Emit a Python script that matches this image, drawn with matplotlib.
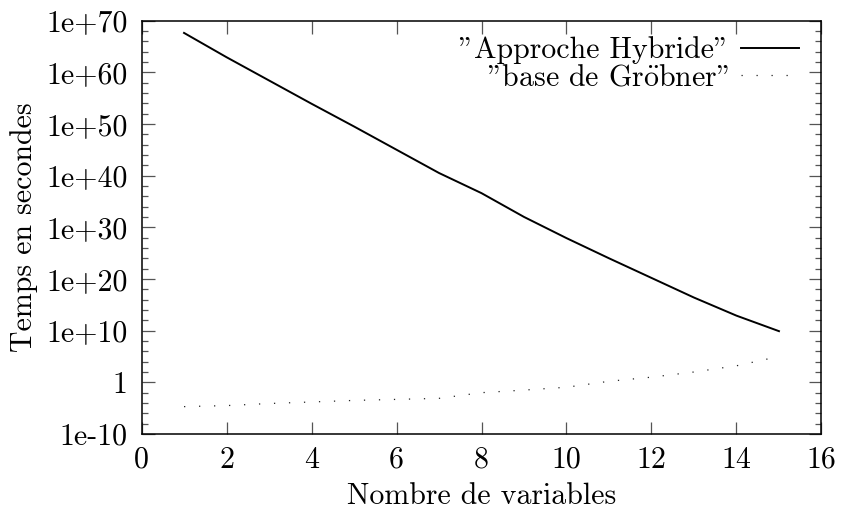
import numpy as np
import matplotlib
matplotlib.use("Agg")
import matplotlib.pyplot as plt
from matplotlib.ticker import FixedLocator, NullFormatter

plt.rcParams['font.family'] = ['cmr10', 'DejaVu Serif']
plt.rcParams['axes.unicode_minus'] = False
plt.rcParams['mathtext.fontset'] = 'cm'

# data (log10 of the time in seconds)
variables = [1, 2, 3, 4, 5, 6, 7, 8, 9, 10, 11, 12, 13, 14, 15]
hybride_log10 = [67.6, 62.9, 58.4, 53.9, 49.5, 45.0, 40.5, 36.6, 32.0, 27.9, 24.0, 20.2, 16.4, 12.9, 9.9]
grobner_log10 = [-4.7, -4.5, -4.1, -3.8, -3.5, -3.3, -3.1, -2.0, -1.5, -0.95, 0.2, 1.0, 2.0, 3.2, 5.0]
# '"' is drawn as a closing quote in cmr10, as in the TeX output
labels = ['"Approche Hybride"', r'"base de Gr$\ddot{\rm o}$bner"']

ytick_exp = list(range(-10, 71, 10))
ytick_labels = ['1' if e == 0 else ('1e+%d' % e if e > 0 else '1e%d' % e) for e in ytick_exp]

fs = 21.5
fig = plt.figure(figsize=(8.44, 5.14), dpi=100)
ax = fig.add_axes([0.1677, 0.1556, 0.8056, 0.8045])

ax.semilogy(variables, 10.0 ** np.array(hybride_log10), color='black', lw=1.4, label=labels[0])
ax.semilogy(variables, 10.0 ** np.array(grobner_log10), color='#222222', lw=0.9,
            dashes=(1, 11), label=labels[1])

ax.set_xlim(0, 16)
ax.set_ylim(1e-10, 1e70)
ax.set_xticks(range(0, 17, 2))
ax.yaxis.set_major_locator(FixedLocator([10.0 ** e for e in ytick_exp]))
ax.set_yticklabels(ytick_labels)
ax.yaxis.set_minor_locator(FixedLocator([10.0 ** e for e in range(-10, 71, 2) if e % 10]))
ax.yaxis.set_minor_formatter(NullFormatter())

ax.tick_params(which='both', direction='in', top=True, right=True, labelsize=fs, color='#555555')
ax.tick_params(which='major', length=9, width=0.9)
ax.tick_params(which='minor', length=4.5, width=0.9)
ax.tick_params(axis='y', pad=10)
ax.tick_params(axis='x', pad=9)
for s in ax.spines.values():
    s.set_linewidth(1.1)

ax.set_xlabel('Nombre de variables', fontsize=fs, labelpad=6)
ax.set_ylabel('Temps en secondes', fontsize=fs, labelpad=6)

ax.legend(loc='upper right', bbox_to_anchor=(0.976, 0.976), frameon=False,
          markerfirst=False, fontsize=fs, handlelength=1.95, handletextpad=0.4,
          labelspacing=0.0, borderaxespad=0, borderpad=0.2)

fig.savefig('out.png', dpi=100)
